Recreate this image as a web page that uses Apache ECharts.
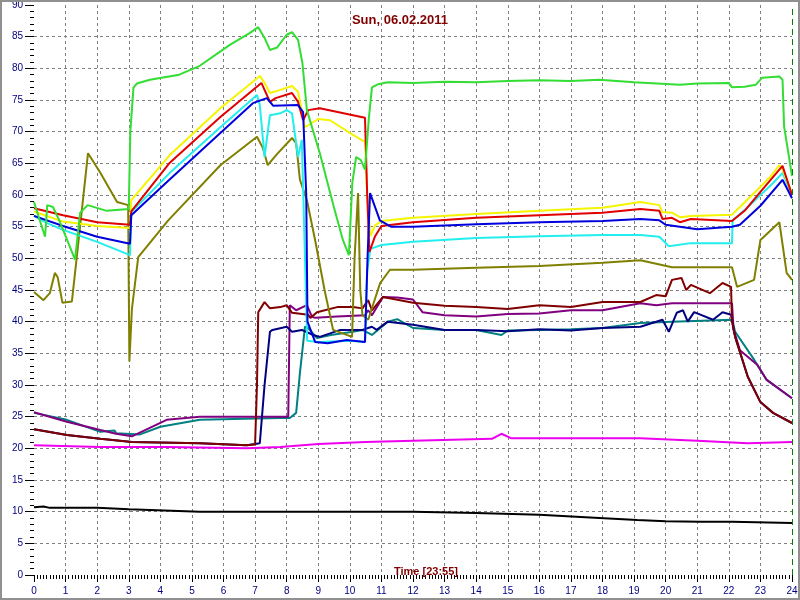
<!DOCTYPE html>
<html>
<head>
<meta charset="utf-8">
<script src="https://cdn.jsdelivr.net/npm/echarts@6/dist/echarts.min.js"></script>
<style>
html,body{margin:0;padding:0;background:#fff;}
#c{width:800px;height:600px;}
</style>
</head>
<body>
<div id="c"></div>
<script>
// x ticks: hours 0..24, y ticks 0..90 step 5
const xTicks = [0,1,2,3,4,5,6,7,8,9,10,11,12,13,14,15,16,17,18,19,20,21,22,23,24];
const yTicks = [0,5,10,15,20,25,30,35,40,45,50,55,60,65,70,75,80,85,90];

const green = [[0,58.9],[0.35,53.4],[0.42,58.4],[0.6,58.1],[0.8,56],[1.3,49.8],[1.46,57.2],[1.7,58.4],[2.3,57.5],[3.0,57.8],[3.05,70],[3.15,77],[3.26,77.6],[3.67,78.2],[4.6,79],[5.25,80.4],[6.2,83.7],[6.84,85.6],[7.1,86.5],[7.3,84.8],[7.47,82.9],[7.7,83.3],[8.0,85.3],[8.17,85.7],[8.36,84.5],[8.5,80.8],[8.64,73.4],[9.05,66.6],[9.5,58],[9.78,52.9],[9.97,50.5],[10.08,62],[10.2,66],[10.35,65.5],[10.48,64],[10.6,72],[10.7,77],[10.9,77.5],[11.2,77.8],[12,77.7],[13,77.9],[14,77.8],[15,78],[16,78.1],[17,78],[17.9,78.2],[19,77.8],[20.45,77.4],[21,77.6],[22,77.7],[22.1,77],[22.5,77.1],[22.85,77.4],[23.05,78.5],[23.6,78.7],[23.7,78.2],[23.75,70.8],[23.87,67.1],[24,63]];
const yellow = [[0,57.4],[0.92,55.8],[2,55.1],[3.04,54.8],[3.08,59.2],[4.3,66.3],[5.9,73.7],[7.15,78.8],[7.3,77.7],[7.47,76.1],[7.8,76.6],[8.17,77.2],[8.36,76.3],[8.58,70.7],[9.0,72],[9.37,71.8],[10.1,69.5],[10.48,68.4],[10.55,60],[10.65,53.5],[10.8,55.2],[11,55.9],[12,56.4],[14,57],[16,57.5],[18,58],[19.2,58.9],[19.8,58.4],[19.9,57.3],[20.2,57.2],[20.45,56.5],[20.8,56.7],[22.1,56.9],[22.35,58.1],[22.9,60.8],[23.3,62.8],[23.6,64.7],[23.7,64],[24,60.3]];
const red = [[0,57.9],[0.92,56.8],[2,55.7],[3.04,55.3],[3.08,57.4],[4.3,65.1],[5.9,72.3],[7.2,77.7],[7.47,74.7],[7.65,75.3],[8.17,76.1],[8.36,74.7],[8.52,71.8],[8.68,73.4],[9.05,73.7],[10.1,72.6],[10.48,72.2],[10.55,60],[10.62,51],[10.8,53.5],[11,55.1],[12,55.7],[14,56.4],[16,56.8],[18,57.2],[19.2,57.8],[19.8,57.5],[19.9,56.2],[20.2,56.4],[20.45,55.7],[20.8,56.2],[22.1,55.9],[22.5,57.5],[23,60.5],[23.7,64.6],[24,60]];
const cyan = [[0,56.7],[0.4,55.6],[0.92,54.5],[2,52.6],[3.04,50.5],[3.08,57.3],[4.3,63.5],[5.9,70.7],[7.06,75.8],[7.15,74.2],[7.3,66],[7.47,72.6],[7.8,72.9],[8.0,73.4],[8.17,72.9],[8.36,66],[8.48,68.7],[8.58,50],[8.65,37],[9,36.8],[10,37],[10.48,36.8],[10.55,48],[10.65,51.5],[11,52.1],[12,52.6],[14,53.2],[16,53.5],[18,53.7],[19.2,53.7],[19.8,53.4],[20.1,51.9],[20.8,52.4],[22.1,52.4],[22.12,56],[22.67,58.4],[23.4,61.9],[23.7,63.5],[24,60]];
const blue = [[0,56.7],[0.92,55.1],[2,53.4],[3.04,52.3],[3.08,56.8],[4.2,62],[5.9,69.8],[6.93,74.5],[7.37,75.3],[7.57,74.1],[8.36,74.2],[8.52,73.1],[8.62,60],[8.66,40],[8.9,36.8],[9.3,36.6],[9.9,37.1],[10.48,36.8],[10.56,50],[10.64,60.3],[10.72,59.2],[10.95,56],[11.3,55],[12,55],[14,55.4],[16,55.7],[18,55.9],[19.2,56.2],[19.8,56],[20,55.3],[21,54.6],[22.1,55],[22.35,55.3],[23,58.3],[23.7,62.4],[24,59.5]];
const olive = [[0,44.7],[0.3,43.4],[0.5,44.5],[0.66,47.7],[0.75,47],[0.9,43],[1.2,43.2],[1.35,50],[1.71,66.6],[2.1,63.5],[2.63,58.9],[2.98,58.4],[3.02,33.7],[3.1,42],[3.3,50.2],[4.25,56],[5.9,64.7],[7.06,69.2],[7.25,67.4],[7.4,64.7],[7.7,66.5],[8.17,69],[8.3,68.2],[8.42,62.4],[8.64,59.2],[8.9,52.9],[9.2,45],[9.47,38.7],[10.07,37.6],[10.15,50],[10.26,60.3],[10.33,45],[10.4,41],[10.58,40.3],[10.96,46.1],[11.27,48.2],[12,48.2],[14,48.5],[16,48.8],[18,49.3],[19.2,49.7],[20.2,48.6],[22.1,48.6],[22.26,45.5],[22.8,46.6],[23,52.9],[23.6,55.7],[23.83,47.7],[24,46.6]];
const maroon = [[0,23],[1.04,22.1],[2.1,21.5],[3.1,21],[5.25,20.8],[6.73,20.5],[7.0,20.6],[7.06,30],[7.1,41.5],[7.2,42.3],[7.3,43.1],[7.47,42.1],[7.8,42.3],[8.0,42.6],[8.17,41.4],[8.68,41.1],[8.75,40.6],[8.96,41.5],[9.6,42.3],[10.1,42.3],[10.4,42.1],[10.58,43.4],[10.7,41.8],[11.05,43.9],[12,43],[13,42.5],[14,42.3],[15,42],[16,42.6],[17,42.3],[18,43.1],[19.2,43.1],[19.7,44.2],[20.0,44],[20.2,46.6],[20.5,46.9],[20.65,45],[20.8,45.8],[21.4,44.5],[21.8,46.1],[22.07,45.5],[22.1,40],[22.2,37.6],[22.6,31.3],[23,27.3],[23.4,25.6],[24,24]];
const purple = [[0,25.7],[1.04,24.2],[2.1,22.9],[2.6,22.3],[3.1,21.9],[4.2,24.5],[5.25,25],[7,25],[8.05,25],[8.1,42.6],[8.3,41.8],[8.64,42.6],[8.8,40.8],[8.9,40.6],[9.6,40.8],[10.48,41],[10.58,41.8],[10.7,41],[11.05,43.9],[11.5,43.8],[12,43.5],[12.3,41.5],[13,41],[14,40.8],[15,41.2],[16,41.3],[17,41.8],[18,41.8],[19.2,42.9],[19.7,42.6],[20.2,42.9],[22.1,42.9],[22.15,38.7],[22.35,35.5],[22.9,33.2],[23.2,30.8],[24,27.9]];
const teal = [[0,25.6],[1.04,24.5],[2.1,22.6],[2.55,22.8],[2.6,22.4],[3.36,22.2],[4,23.4],[5.25,24.5],[7.8,24.8],[8.1,24.8],[8.3,25.6],[8.42,31.9],[8.58,39.2],[8.68,39],[8.96,37.4],[9.4,37.9],[10.1,38.4],[10.4,38.7],[10.7,37.9],[11.2,40],[11.5,40.4],[12,39],[13,38.7],[14,38.7],[14.8,37.9],[15,38.6],[16,38.7],[17,38.8],[18,39],[19.2,39.8],[20.2,40],[22.1,40.3],[22.2,38.4],[22.8,34],[23.2,30.8],[24,27.9]];
const navy = [[0,23],[1.04,22.1],[2.1,21.5],[3.1,21],[5.25,20.8],[6.73,20.5],[7.15,20.8],[7.3,30],[7.47,38.4],[7.55,38.7],[8.0,39.2],[8.17,38.4],[8.48,38.7],[8.84,37.9],[9.05,37.6],[9.7,38.7],[10.4,38.7],[10.58,39],[10.7,39.2],[10.85,38.7],[11.2,40],[12,39.5],[13,38.7],[14,38.7],[15,38.5],[16,38.8],[17,38.6],[18,39],[19.2,39.2],[19.9,40.3],[20.1,38.4],[20.35,41.4],[20.55,41.8],[20.7,40],[20.9,41.5],[21.5,40.3],[21.8,41.5],[22.07,41.1],[22.2,37.6],[22.6,31.3],[23,27.3],[23.4,25.6],[24,24]];
const magenta = [[0,20.5],[2.1,20.2],[4.2,20.2],[6.73,20],[7.8,20.2],[9,20.7],[10.5,21],[12,21.2],[14.5,21.5],[14.8,22.3],[15.1,21.6],[17,21.6],[19.2,21.6],[21,21.2],[22.6,20.8],[24,21]];
const black = [[0,10.7],[0.3,10.8],[0.5,10.6],[2,10.6],[3,10.4],[5.25,10],[8,10],[12,10],[14,9.8],[16,9.5],[17.9,9.0],[19.1,8.7],[20,8.5],[21.1,8.4],[22.1,8.4],[24,8.2]];

const seriesDefs = [
  ['black', black, '#000000'],
  ['magenta', magenta, '#ee00ee'],
  ['teal', teal, '#008080'],
  ['purple', purple, '#800080'],
  ['navy', navy, '#000080'],
  ['maroon', maroon, '#800000'],
  ['olive', olive, '#808000'],
  ['cyan', cyan, '#22eeee'],
  ['yellow', yellow, '#f5f500'],
  ['red', red, '#e00000'],
  ['blue', blue, '#0000dd'],
  ['green', green, '#33dd33']
];

const chart = echarts.init(document.getElementById('c'), null, {renderer:'canvas'});
const series = seriesDefs.map(([n, d, c]) => ({
  name: n, type: 'line', data: d, showSymbol: false, symbol: 'none',
  lineStyle: {color: c, width: 2}, itemStyle: {color: c}, silent: true
}));
series[0].markLine = {
  silent: true, symbol: ['none','none'], label: {show:false},
  lineStyle: {color:'#008000', type:[6,4], width:1},
  data: [{xAxis: xTicks[xTicks.length-1]}]
};

chart.setOption({
  animation: false,
  backgroundColor: '#ffffff',
  title: [
    {text: 'Sun, 06.02.2011', left: 'center', top: 9,
     textStyle: {color:'#800000', fontSize: 13, fontWeight:'bold', fontFamily:'Liberation Sans'}},
    {text: 'Time [23:55]', left: 389, top: 561,
     textStyle: {color:'#800000', fontSize: 11, fontWeight:'bold', fontFamily:'Liberation Sans'}}
  ],
  grid: {left: 34, right: 8, top: 5, bottom: 25, containLabel: false, outerBoundsMode: 'none'},
  xAxis: {
    type: 'value', min: xTicks[0], max: xTicks[xTicks.length-1], interval: 1,
    axisLine: {show: false},
    axisTick: {show: true, length: 7, lineStyle: {color:'#000000'}},
    minorTick: {show: true, splitNumber: 10, length: 4, lineStyle: {color:'#000000'}},
    axisLabel: {color:'#000080', fontSize: 10, margin: 11, fontFamily:'Liberation Sans'},
    splitLine: {show: true, showMinLine: false, showMaxLine: false, lineStyle: {color:'#808080', type:[3,3], width:1}}
  },
  yAxis: {
    type: 'value', min: yTicks[0], max: yTicks[yTicks.length-1], interval: 5,
    name: '°C', nameLocation: 'middle', nameGap: 26, nameRotate: 90,
    nameTextStyle: {color:'#000080', fontSize: 11, fontFamily:'Liberation Sans'},
    axisLine: {show: false},
    axisTick: {show: true, length: 9, lineStyle: {color:'#000000'}},
    minorTick: {show: true, splitNumber: 5, length: 4, lineStyle: {color:'#000000'}},
    axisLabel: {color:'#000080', fontSize: 10, margin: 11, fontFamily:'Liberation Sans'},
    splitLine: {show: true, showMinLine: false, showMaxLine: false, lineStyle: {color:'#808080', type:[3,3], width:1}}
  },
  graphic: [{
    type: 'rect', silent: true, z: 100,
    shape: {x: 1, y: 1, width: 798, height: 598},
    style: {fill: 'none', stroke: '#909090', lineWidth: 2}
  }],
  series: series
});
</script>
</body>
</html>
